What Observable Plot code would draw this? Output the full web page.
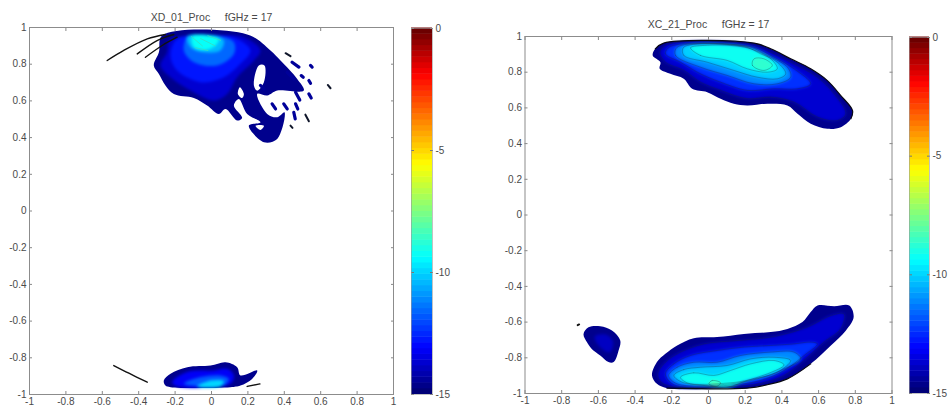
<!DOCTYPE html>
<html><head><meta charset="utf-8">
<script src="https://cdn.jsdelivr.net/npm/d3@7"></script>
<script src="https://cdn.jsdelivr.net/npm/@observablehq/plot@0.6"></script>
<style>
html,body{margin:0;padding:0;background:#fff;overflow:hidden}
#c{position:relative;width:948px;height:412px}
#c svg{position:absolute;display:block;background:transparent;overflow:visible}
</style></head><body><div id="c"></div>
<script>
const axisTicks=[-1,-0.8,-0.6,-0.4,-0.2,0,0.2,0.4,0.6,0.8,1];
const barTicks=[0,-5,-10,-15];
const jetValues=[-15,-13.1,-9.4,-5.6,-1.9,0];
const jetColors=["#00006e","#0000ff","#00ffff","#ffff00","#ff0000","#620000"];
const titleLeft="XD_01_Proc\u00a0\u00a0\u00a0\u00a0\u00a0fGHz = 17";
const titleRight="XC_21_Proc\u00a0\u00a0\u00a0\u00a0\u00a0fGHz = 17";

// left chart, upper lobe: [level, [x,y]...]
const leftTop=[
[-14.6,[[-.271,.956],[-.289,.865],[-.317,.793],[-.289,.747],[-.253,.684],[-.207,.638],[-.097,.616],[-.024,.575],[.04,.529],[.077,.556],[.141,.493],[.168,.507],[.123,.575],[.15,.611],[.196,.529],[.269,.484],[.205,.465],[.288,.375],[.361,.393],[.401,.538],[.361,.511],[.306,.529],[.251,.638],[.306,.629],[.361,.656],[.507,.656],[.471,.72],[.379,.82],[.324,.875],[.196,.962]]],
[-13.7,[[-.234,.929],[-.244,.865],[-.28,.793],[-.225,.729],[-.115,.656],[.013,.602],[.086,.638],[.141,.729],[.233,.82],[.269,.875],[.178,.947],[-.024,.956],[-.189,.947]]],
[-12.8,[[-.189,.938],[-.225,.847],[-.189,.765],[-.06,.702],[.068,.729],[.159,.802],[.214,.875],[.141,.938],[-.005,.956]]],
[-11.6,[[-.134,.947],[-.152,.875],[-.097,.811],[.031,.793],[.123,.856],[.123,.92],[.031,.956],[-.097,.956]]],
[-10.4,[[-.134,.951],[-.115,.893],[-.042,.865],[.049,.875],[.068,.929],[.013,.956]]],
[-9.3,[[-.106,.951],[-.097,.893],[-.033,.878],[.022,.902],[.04,.938],[-.015,.955]]]
];
const leftBottom=[
[-14.6,[[-.262,-.924],[-.225,-.887],[-.133,-.851],[-.005,-.842],[.077,-.824],[.141,-.851],[.159,-.896],[.251,-.869],[.223,-.915],[.159,-.951],[.104,-.96],[-.225,-.96],[-.253,-.951]]],
[-13.2,[[-.216,-.933],[-.134,-.878],[.013,-.869],[.086,-.86],[.123,-.896],[.104,-.942],[-.189,-.955]]],
[-11.8,[[-.152,-.942],[-.06,-.905],[.049,-.896],[.095,-.915],[.068,-.951]]],
[-10,[[-.079,-.956],[-.005,-.924],[.068,-.927],[.049,-.956]]]
];
const leftHoles=[
[[.26,.793],[.291,.793],[.288,.702],[.251,.656],[.233,.684]],
[[.156,.675],[.178,.638],[.168,.616],[.145,.638]],
[[.242,.465],[.288,.465],[.269,.442]]
];
const leftSpots=[[.269,.684,.288,.665],[.333,.584,.352,.556],[.397,.584,.416,.556],[.462,.584,.474,.556],[.462,.647,.485,.605],[.535,.638,.548,.616],[.452,.538,.46,.502],[.535,.711,.544,.696],[.544,.793,.553,.784],[.493,.738,.504,.729],[.443,.811,.48,.784],[.416,.756,.452,.72]];
const leftDarkSpots=[[.516,.525,.535,.489],[.434,.465,.445,.453],[.639,.687,.654,.669],[.407,.86,.434,.844]];
const leftStreaks=[
[[-.573,.82],[-.482,.875],[-.353,.938],[-.253,.962]],
[[-.408,.856],[-.299,.929],[-.207,.962]],
[[-.363,.838],[-.271,.902],[-.189,.947]],
[[-.537,-.842],[-.454,-.884],[-.353,-.933]],
[[.196,-.956],[.266,-.942]]
];
const leftGlints=[[-.11,.95,-.05,.9],[-.06,.94,.02,.9],[-.02,.955,.05,.93],[-.09,.89,-.02,.875]];

// right chart
const rightTop=[
[-14.6,[[-.244,.963],[-.29,.931],[-.304,.894],[-.262,.856],[-.266,.819],[-.208,.791],[-.135,.763],[-.089,.707],[-.007,.688],[.066,.651],[.138,.623],[.211,.613],[.321,.623],[.43,.613],[.485,.567],[.557,.511],[.648,.483],[.721,.492],[.776,.539],[.785,.585],[.721,.669],[.648,.753],[.557,.819],[.448,.875],[.339,.931],[.248,.963]]],
[-13.7,[[-.226,.955],[-.266,.912],[-.235,.856],[-.135,.81],[-.044,.744],[.066,.698],[.211,.651],[.339,.66],[.466,.632],[.594,.548],[.703,.529],[.749,.567],[.685,.679],[.594,.772],[.466,.847],[.339,.912],[.23,.955]]],
[-12.4,[[-.208,.944],[-.235,.903],[-.153,.856],[-.044,.791],[.066,.744],[.211,.698],[.357,.707],[.485,.707],[.557,.735],[.466,.819],[.339,.894],[.23,.944]]],
[-11.1,[[-.171,.94],[-.18,.894],[-.044,.828],[.102,.782],[.248,.735],[.375,.735],[.448,.772],[.43,.828],[.321,.894],[.211,.944]]],
[-10.1,[[-.135,.94],[-.135,.894],[-.007,.856],[.138,.81],[.266,.772],[.375,.763],[.421,.791],[.375,.856],[.284,.903],[.193,.944]]],
[-9.2,[[-.098,.937],[-.044,.894],[.102,.866],[.211,.819],[.321,.8],[.375,.819],[.339,.875],[.23,.931],[.12,.95],[-.007,.951]]],
[-8.7,[[.248,.875],[.239,.838],[.302,.81],[.348,.838],[.302,.875]]]
];
const rightBottom=[
[-14.6,[[-.308,-.899],[-.281,-.824],[-.235,-.778],[-.171,-.731],[-.08,-.69],[.047,-.684],[.193,-.666],[.339,-.656],[.43,-.638],[.512,-.6],[.557,-.544],[.594,-.507],[.685,-.511],[.767,-.507],[.791,-.572],[.749,-.647],[.667,-.731],[.557,-.834],[.43,-.918],[.321,-.951],[.211,-.97],[.102,-.97],[-.226,-.97],[-.281,-.946]]],
[-13.7,[[-.277,-.89],[-.235,-.824],[-.153,-.768],[-.026,-.722],[.157,-.703],[.339,-.684],[.485,-.647],[.557,-.619],[.667,-.563],[.74,-.554],[.721,-.638],[.63,-.712],[.521,-.815],[.412,-.899],[.302,-.94],[.157,-.959],[-.208,-.959],[-.262,-.933]]],
[-12.4,[[-.235,-.89],[-.189,-.834],[-.098,-.787],[.047,-.759],[.193,-.74],[.339,-.731],[.466,-.722],[.557,-.712],[.594,-.722],[.521,-.787],[.412,-.871],[.284,-.927],[.138,-.951],[-.189,-.951]]],
[-11.1,[[-.217,-.899],[-.171,-.853],[-.08,-.825],[.047,-.825],[.175,-.787],[.339,-.768],[.466,-.768],[.503,-.806],[.393,-.871],[.266,-.918],[.12,-.946],[-.171,-.946]]],
[-10.1,[[-.189,-.899],[-.135,-.866],[-.044,-.853],[.102,-.843],[.23,-.806],[.357,-.797],[.448,-.815],[.375,-.881],[.248,-.918],[.12,-.94],[-.135,-.94]]],
[-9.2,[[-.153,-.909],[-.08,-.884],[.029,-.899],[.12,-.871],[.23,-.834],[.357,-.815],[.412,-.84],[.321,-.89],[.211,-.927],[.102,-.965],[-.026,-.955],[-.117,-.94]]],
[-8.4,[[.002,-.946],[.02,-.927],[.066,-.94],[.047,-.959]]]
];
const rightIsland=[
[-14.6,[[-.681,-.666],[-.654,-.629],[-.59,-.623],[-.526,-.647],[-.481,-.703],[-.49,-.759],[-.517,-.824],[-.545,-.824],[-.59,-.787],[-.636,-.75],[-.663,-.712]]],
[-13.9,[[-.62,-.68],[-.56,-.67],[-.52,-.71],[-.54,-.77],[-.6,-.73]]]
];
const rightDot=[[-.713,-.617,-.705,-.613]];
const rightEdges=[
[[-.29,.931],[-.244,.963],[.248,.963],[.339,.931],[.448,.875],[.557,.819],[.648,.753],[.721,.669],[.785,.585],[.776,.539]],
[[.557,-.834],[.43,-.918],[.321,-.951],[.211,-.97],[-.226,-.97]]
];

const colorScale={type:"linear",domain:jetValues,range:jetColors,interpolate:"rgb"};
const ink="#4a4a4a";

function rows(groups,prefix){
  return groups.flatMap(([level,poly],k)=>poly.map(([x,y])=>({x,y,level,id:prefix+k})));
}
function pathRows(polys){
  return polys.flatMap((poly,k)=>poly.map(([x,y])=>({x,y,id:k})));
}
function frameMarks(title,dy){
  return [
    Plot.axisX({anchor:"bottom",ticks:axisTicks,tickSize:-3,tickPadding:6,tickFormat:d=>String(d),label:null,stroke:"#888",color:ink,fontSize:10,fontFamily:"Liberation Sans"}),
    Plot.axisX({anchor:"top",ticks:axisTicks,tickSize:-3,tickFormat:()=>"",label:null,stroke:"#888"}),
    Plot.axisY({anchor:"left",ticks:axisTicks,tickSize:-3,tickPadding:6,tickFormat:d=>String(d),label:null,stroke:"#888",color:ink,fontSize:10,fontFamily:"Liberation Sans"}),
    Plot.axisY({anchor:"right",ticks:axisTicks,tickSize:-3,tickFormat:()=>"",label:null,stroke:"#888"}),
    Plot.frame({stroke:"#8c8c8c",strokeWidth:1}),
    Plot.text([title],{frameAnchor:"top",dy,text:d=>d,fontSize:10.5,fontFamily:"Liberation Sans",fill:ink})
  ];
}
function lobe(groups,prefix,outline,outerCurve){
  const all=rows(groups,prefix);
  const outer=all.filter(d=>d.level===groups[0][0]);
  const inner=all.filter(d=>d.level!==groups[0][0]);
  const marks=[
    Plot.line(outer,{x:"x",y:"y",z:"id",fill:"level",stroke:"none",curve:outerCurve,imageFilter:"blur(0.6px)"}),
    Plot.line(inner,{x:"x",y:"y",z:"id",fill:"level",stroke:"none",curve:"catmull-rom-closed",imageFilter:"blur(1.6px)"})
  ];
  if(outline) marks.push(Plot.line(inner,{x:"x",y:"y",z:"id",fill:"none",stroke:"#1c2a3a",strokeWidth:0.6,strokeOpacity:0.5,curve:"catmull-rom-closed",imageFilter:"blur(0.3px)"}));
  return marks;
}
function link(list,color,w){
  return Plot.link(list,{x1:d=>d[0],y1:d=>d[1],x2:d=>d[2],y2:d=>d[3],stroke:color,strokeWidth:w,strokeLinecap:"round",imageFilter:"blur(0.4px)"});
}
function mount(plot,left,top){
  plot.style.left=left+"px";plot.style.top=top+"px";
  document.getElementById("c").appendChild(plot);
}

const base={x:{domain:[-1,1]},y:{domain:[-1,1]},color:colorScale};

mount(Plot.plot({...base,width:400,height:412,marginLeft:29,marginRight:7,marginTop:27,marginBottom:18,
  marks:[
    ...lobe(leftTop,"lt",false,"catmull-rom-closed"),
    ...lobe(leftBottom,"lb",false,"catmull-rom-closed"),
    Plot.line(pathRows(leftHoles),{x:"x",y:"y",z:"id",fill:"white",stroke:"none",curve:"catmull-rom-closed",imageFilter:"blur(0.5px)"}),
    link(leftSpots,"#000099",3.2),
    link(leftDarkSpots,"#10162a",2),
    link(leftGlints,"#38dcc0",0.8),
    Plot.line(pathRows(leftStreaks),{x:"x",y:"y",z:"id",stroke:"#111",strokeWidth:1.4,curve:"catmull-rom",imageFilter:"blur(0.4px)"}),
    ...frameMarks(titleLeft,-14)
  ]}),0,0);

mount(Plot.plot({...base,width:402,height:412,marginLeft:34.5,marginRight:0.5,marginTop:36,marginBottom:19,
  marks:[
    ...lobe(rightTop,"rt",true,"catmull-rom-closed"),
    ...lobe(rightBottom,"rb",true,"catmull-rom-closed"),
    ...lobe(rightIsland,"ri",false,"catmull-rom-closed"),
    Plot.line(pathRows(rightEdges),{x:"x",y:"y",z:"id",stroke:"#0a0a14",strokeWidth:1.2,curve:"catmull-rom",imageFilter:"blur(0.4px)"}),
    link(rightDot,"#111",2),
    ...frameMarks(titleRight,-16)
  ]}),490,0);

const barLevels=d3.range(64).map(i=>-15+i*15/64);
function bar(top,bottom,width,left){
  const p=Plot.plot({width:width+28,height:412,marginLeft:0,marginRight:28,marginTop:top,marginBottom:412-bottom,
    x:{domain:[0,1],axis:null},y:{domain:[-15,0]},color:colorScale,
    marks:[
      Plot.rect(barLevels,{x1:0,x2:1,y1:d=>d,y2:d=>d+15/64+0.02,fill:d=>d+7.5/64}),
      Plot.axisY({anchor:"right",ticks:barTicks,tickSize:-3,tickPadding:6,tickFormat:d=>String(d),label:null,stroke:"#777",color:ink,fontSize:10,fontFamily:"Liberation Sans"}),
      Plot.axisY({anchor:"left",ticks:barTicks,tickSize:-3,tickFormat:()=>"",label:null,stroke:"#777"}),
      Plot.frame({stroke:"#999",strokeWidth:0.6})
    ]});
  mount(p,left,0);
}
bar(28,394,21,411);
bar(37,393,20,909);
</script></body></html>
